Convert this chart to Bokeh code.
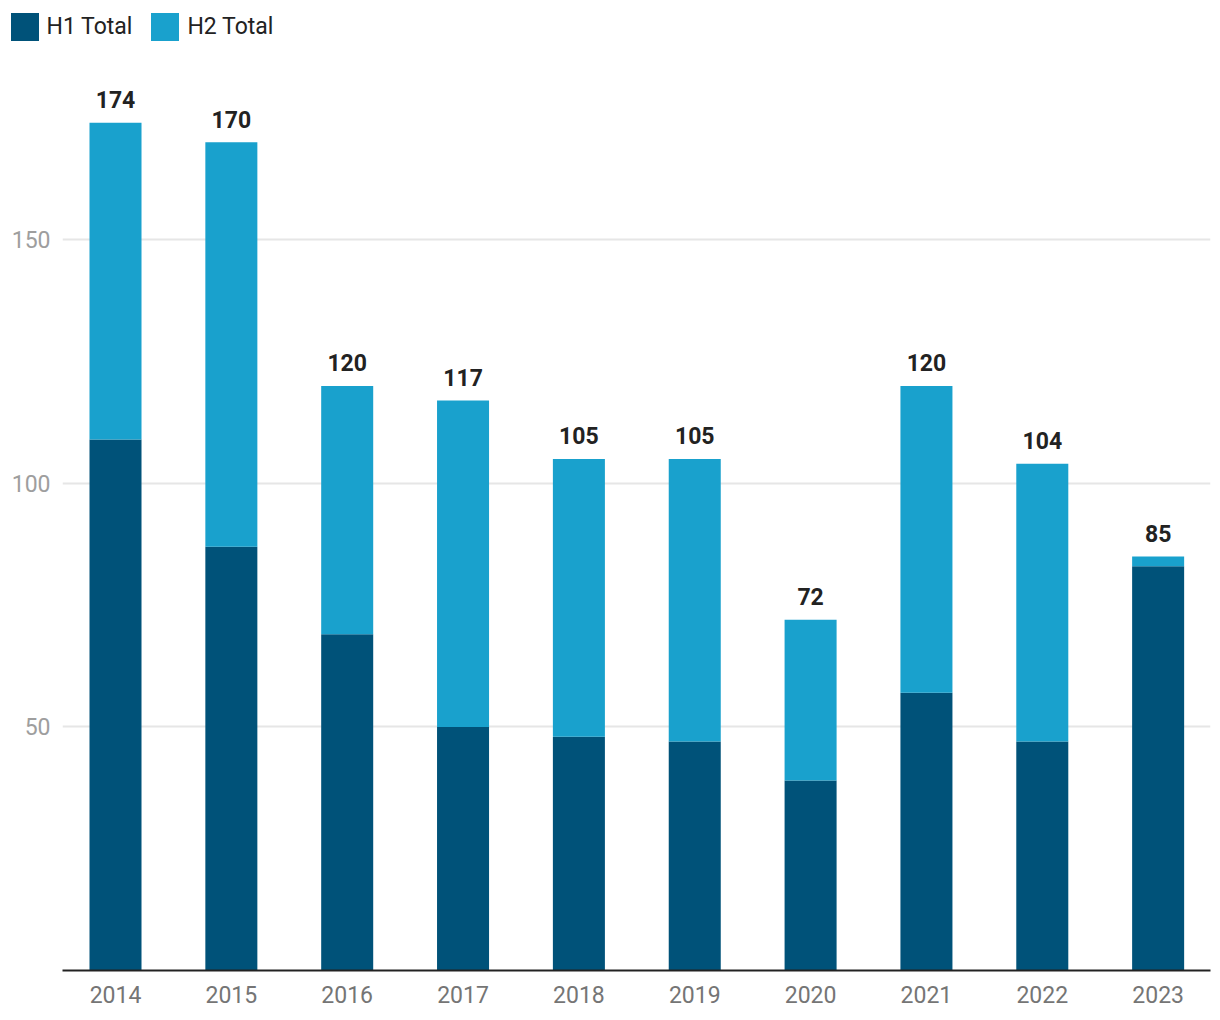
from bokeh.plotting import figure
from bokeh.layouts import column
from bokeh.models import ColumnDataSource, Range1d, Legend, LegendItem, FixedTicker
from bokeh.embed import file_html
from bokeh.resources import INLINE
from bokeh.core.properties import value

years = ["2014", "2015", "2016", "2017", "2018", "2019", "2020", "2021", "2022", "2023"]
h1_total = [109, 87, 69, 50, 48, 47, 39, 57, 47, 83]
h2_total = [65, 83, 51, 67, 57, 58, 33, 63, 57, 2]
totals = [a + b for a, b in zip(h1_total, h2_total)]
series_names = ["H1 Total", "H2 Total"]

DARK = "#005279"
LIGHT = "#19a1cd"
FONT = "Roboto"
FS = "23px"

idx = list(range(len(years)))
src = ColumnDataSource(dict(
    x=idx, year=years, h1=h1_total, h2=h2_total, total=totals,
    label=[str(t) for t in totals],
))

# ---- main chart ----
p = figure(width=1212, height=954, output_backend="svg", toolbar_location=None,
           x_range=Range1d(-0.4575, 9.452), y_range=Range1d(0, 186.8),
           min_border_left=62, min_border_right=2, min_border_top=0, min_border_bottom=44)
p.outline_line_color = None

r1 = p.vbar(x="x", bottom=0, top="h1", width=0.449, source=src,
            fill_color=DARK, line_color=None)
r2 = p.vbar(x="x", bottom="h1", top="total", width=0.449, source=src,
            fill_color=LIGHT, line_color=None)

p.text(x="x", y="total", text="label", source=src, text_align="center",
       text_baseline="alphabetic", y_offset=-23, text_font=value(FONT),
       text_font_size=FS, text_font_style="bold", text_color="#222222")

p.xaxis.ticker = FixedTicker(ticks=idx)
p.xaxis.major_label_overrides = {i: y for i, y in zip(idx, years)}
p.xaxis.axis_line_color = "#222222"
p.xaxis.axis_line_width = 2
p.xaxis.major_tick_line_color = None
p.xaxis.minor_tick_line_color = None
p.xaxis.major_tick_out = 0
p.xaxis.major_label_standoff = 15
p.xaxis.major_label_text_font = FONT
p.xaxis.major_label_text_font_size = FS
p.xaxis.major_label_text_color = "#757575"

p.yaxis.ticker = FixedTicker(ticks=[50, 100, 150])
p.yaxis.axis_line_color = None
p.yaxis.major_tick_line_color = None
p.yaxis.minor_tick_line_color = None
p.yaxis.major_tick_out = 0
p.yaxis.major_label_standoff = 12
p.yaxis.major_label_text_font = FONT
p.yaxis.major_label_text_font_size = FS
p.yaxis.major_label_text_color = "#9e9e9e"

p.xgrid.grid_line_color = None
p.ygrid.grid_line_color = "#e6e6e6"
p.ygrid.grid_line_width = 2

# ---- legend strip ----
lg = figure(width=1212, height=60, output_backend="svg", toolbar_location=None,
            x_range=Range1d(0, 1), y_range=Range1d(0, 1),
            x_axis_location=None, y_axis_location=None,
            min_border=0, frame_align=False)
lg.outline_line_color = None
lg.xgrid.grid_line_color = None
lg.ygrid.grid_line_color = None
d1 = lg.vbar(x=[-10], top=[0], width=0.1, fill_color=DARK, line_color=None)
d2 = lg.vbar(x=[-10], top=[0], width=0.1, fill_color=LIGHT, line_color=None)
legend = Legend(items=[LegendItem(label=series_names[0], renderers=[d1]),
                       LegendItem(label=series_names[1], renderers=[d2])],
                orientation="horizontal", location=(6.5, 16.5),
                glyph_width=35, glyph_height=35, label_height=35,
                label_standoff=5, spacing=15, padding=0, margin=0,
                border_line_color=None, background_fill_alpha=0,
                label_text_font=FONT, label_text_font_size=FS,
                label_text_color="#222222", label_text_baseline="middle")
lg.add_layout(legend, "center")

layout = column(lg, p, spacing=0)
open("out.html", "w").write(file_html(layout, INLINE))
